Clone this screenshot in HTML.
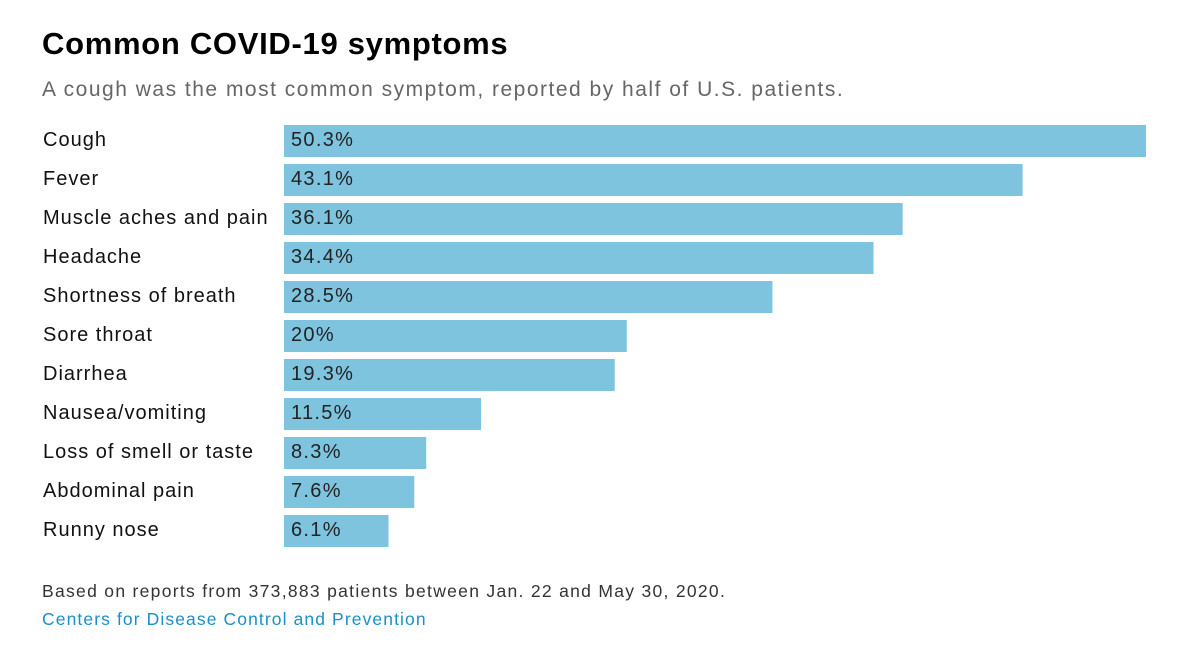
<!DOCTYPE html>
<html><head><meta charset="utf-8"><style>
body{margin:0;width:1200px;height:661px;background:#fff;font-family:"Liberation Sans",sans-serif;position:relative;overflow:hidden}
.t{position:absolute;left:42px;top:26px;font-size:31px;font-weight:bold;color:#000;letter-spacing:0.7px}
.s{position:absolute;left:42px;top:78px;font-size:21px;color:#666;letter-spacing:1.5px}
.f{position:absolute;left:42px;font-size:17.5px;letter-spacing:1.3px}
</style></head><body>
<div class="t">Common COVID-19 symptoms</div>
<div class="s">A cough was the most common symptom, reported by half of U.S. patients.</div>
<svg id="c" width="1200" height="661" style="position:absolute;left:0;top:0"></svg>
<div class="f" style="top:581px;color:#333">Based on reports from 373,883 patients between Jan. 22 and May 30, 2020.</div>
<div class="f" style="top:609px;color:#1a8fc8;letter-spacing:1.1px">Centers for Disease Control and Prevention</div>
<script>
const categories=["Cough","Fever","Muscle aches and pain","Headache","Shortness of breath","Sore throat","Diarrhea","Nausea/vomiting","Loss of smell or taste","Abdominal pain","Runny nose"];
const values=[50.3,43.1,36.1,34.4,28.5,20,19.3,11.5,8.3,7.6,6.1];
const valueLabels=["50.3%","43.1%","36.1%","34.4%","28.5%","20%","19.3%","11.5%","8.3%","7.6%","6.1%"];
const svg=document.getElementById('c');const NS='http://www.w3.org/2000/svg';
const x0=284,x1=1146,maxV=50.3;
function xs(v){return x0+(x1-x0)*v/maxV;}
function ys(i){return 125+i*39;}
categories.forEach((c,i)=>{
 const y=ys(i);
 const t=document.createElementNS(NS,'text');
 
 
 t.setAttribute('x',43);t.setAttribute('y',y+21);t.setAttribute('font-size','20');t.setAttribute('letter-spacing','1');t.setAttribute('fill','#111');t.textContent=c;svg.appendChild(t);
 const r=document.createElementNS(NS,'rect');
 
 
 r.setAttribute('x',x0);r.setAttribute('y',y);r.setAttribute('width',xs(values[i])-x0);r.setAttribute('height',32);r.setAttribute('fill','#7fc4df');svg.appendChild(r);
 const v=document.createElementNS(NS,'text');
 
 
 v.setAttribute('x',x0+7);v.setAttribute('y',y+21);v.setAttribute('font-size','20');v.setAttribute('letter-spacing','1.3');v.setAttribute('fill','#222');v.textContent=valueLabels[i];svg.appendChild(v);
});
</script>
</body></html>
